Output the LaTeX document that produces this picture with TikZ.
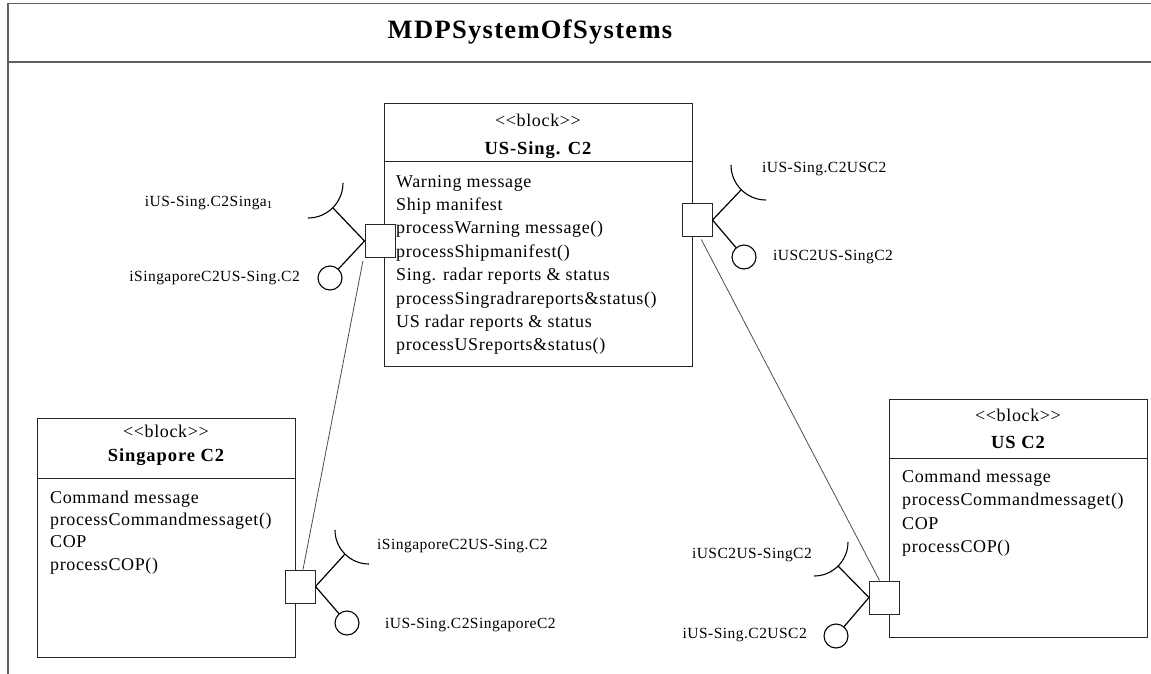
\documentclass[tikz,border=0pt]{standalone}
\usepackage{fontspec}
\setmainfont{Liberation Serif}
\usetikzlibrary{calc}
\newcommand\titlefnt{\fontsize{26.5}{30}\selectfont\bfseries\addfontfeature{LetterSpace=5}}
\newcommand\bodyfnt{\fontsize{18}{22}\selectfont\addfontfeature{LetterSpace=3.5}}
\newcommand\namefnt{\fontsize{18.5}{22}\selectfont\bfseries\addfontfeature{LetterSpace=5}}
\newcommand\labelfnt{\fontsize{15.5}{18}\selectfont\addfontfeature{LetterSpace=3}}
\begin{document}
\begin{tikzpicture}[x=1pt,y=-1pt,
  frameline/.style={draw=black!62, line width=1.4pt},
  blockbox/.style={draw=black!85, line width=1pt},
  port/.style={draw=black!85, fill=white, line width=1pt, minimum width=30pt, minimum height=33pt, inner sep=0pt},
  ball/.style={circle, draw=black, line width=1.1pt, minimum size=24pt, inner sep=0pt},
  stem/.style={draw=black, line width=1.2pt},
  socket/.style={draw=black, line width=1.1pt},
  link/.style={draw=black!70, line width=0.8pt, shorten <=3pt},
  ifname/.style={inner sep=0pt, font=\labelfnt},
  bodytext/.style={inner sep=0pt, anchor=base west, font=\bodyfnt},
  stereo/.style={inner sep=0pt, anchor=base, font=\bodyfnt},
  blockname/.style={inner sep=0pt, anchor=base, font=\namefnt},
]
\useasboundingbox (0,0) rectangle (1151,674);

% diagram frame and title bar
\draw[frameline] (8,674) -- (8,3.5) -- (1151,3.5);
\draw[frameline] (8,62) -- (1151,62);
\node[inner sep=0pt, anchor=base, font=\titlefnt] (title) at (530,39) {MDPSystemOfSystems};

% block US-Sing. C2
\node[blockbox, anchor=north west, minimum width=308pt, minimum height=263pt, inner sep=0pt] (usbox) at (384,103) {};
\draw[blockbox] ($(usbox.north west)+(0,58)$) -- ($(usbox.north east)+(0,58)$);
\node[stereo] (usst) at (538,127) {<{}<block>{}>};
\node[blockname] (usnm) at (538,154) {US-Sing. C2};
\foreach \t [count=\i from 0] in {Warning message, Ship manifest, processWarning message(), processShipmanifest(), Sing. radar reports \& status, processSingradrareports\&status(), US radar reports \& status, processUSreports\&status()}
  \node[bodytext] (usl\i) at (396,187+23.4*\i) {\t};

% block Singapore C2
\node[blockbox, anchor=north west, minimum width=258pt, minimum height=239pt, inner sep=0pt] (sgbox) at (37,418) {};
\draw[blockbox] ($(sgbox.north west)+(0,60)$) -- ($(sgbox.north east)+(0,60)$);
\node[stereo] (sgst) at (166,437) {<{}<block>{}>};
\node[blockname] (sgnm) at (166,461) {Singapore C2};
\foreach \t [count=\i from 0] in {Command message, processCommandmessaget(), COP, processCOP()}
  \node[bodytext] (sgl\i) at (50,503+22.4*\i) {\t};

% block US C2
\node[blockbox, anchor=north west, minimum width=258pt, minimum height=238pt, inner sep=0pt] (ucbox) at (889,399) {};
\draw[blockbox] ($(ucbox.north west)+(0,59)$) -- ($(ucbox.north east)+(0,59)$);
\node[stereo] (ucst) at (1018,421) {<{}<block>{}>};
\node[blockname] (ucnm) at (1018,448) {US C2};
\foreach \t [count=\i from 0] in {Command message, processCommandmessaget(), COP, processCOP()}
  \node[bodytext] (ucl\i) at (902,482+23.6*\i) {\t};

% ports
\node[port] (p1) at (380,241) {};
\node[port] (p2) at (697,220) {};
\node[port] (p3) at (300,586.5) {};
\node[port] (p4) at (884.5,597.5) {};

% connectors between ports
\draw[link] ([xshift=-1pt]p1.south west) -- ([xshift=3pt]p3.north);
\draw[link] ([xshift=3pt]p2.south) -- ([xshift=-5pt]p4.north);

% required interfaces (sockets)
\coordinate (s1) at (332.75,207.75);
\coordinate (s2) at (741.25,189.75);
\coordinate (s3) at (344.96,554.04);
\coordinate (s4) at (838.04,566.04);
\draw[socket] (343,183) .. controls (343,202.3) and (327.3,218) .. (308,218);
\draw[socket] (731,165) .. controls (731,184.3) and (746.7,200) .. (766,200);
\draw[socket] (335,530) .. controls (335,548.8) and (350.2,564) .. (369,564);
\draw[socket] (848,542) .. controls (848,560.8) and (832.8,576) .. (814,576);
\draw[stem] (p1.west) -- (s1);
\draw[stem] (p2.east) -- (s2);
\draw[stem] (p3.east) -- (s3);
\draw[stem] (p4.west) -- (s4);

% provided interfaces (balls)
\node[ball] (b1) at (330,278) {};
\node[ball] (b2) at (744,257) {};
\node[ball] (b3) at (347,623) {};
\node[ball] (b4) at (836,636) {};
\draw[stem] (p1.west) -- (b1);
\draw[stem] (p2.east) -- (b2);
\draw[stem] (p3.east) -- (b3);
\draw[stem] (p4.west) -- (b4);

% interface names
\node[ifname, anchor=east] (l1) at (273,203) {iUS-Sing.C2Singa\textsubscript{1}};
\node[ifname, anchor=east] (l2) at (300,278) {iSingaporeC2US-Sing.C2};
\node[ifname, anchor=west] (l3) at (762,169) {iUS-Sing.C2USC2};
\node[ifname, anchor=west] (l4) at (773,257) {iUSC2US-SingC2};
\node[ifname, anchor=west] (l5) at (377,546) {iSingaporeC2US-Sing.C2};
\node[ifname, anchor=west] (l6) at (385,625) {iUS-Sing.C2SingaporeC2};
\node[ifname, anchor=east] (l7) at (812,555) {iUSC2US-SingC2};
\node[ifname, anchor=east] (l8) at (807,635) {iUS-Sing.C2USC2};
\end{tikzpicture}
\end{document}
